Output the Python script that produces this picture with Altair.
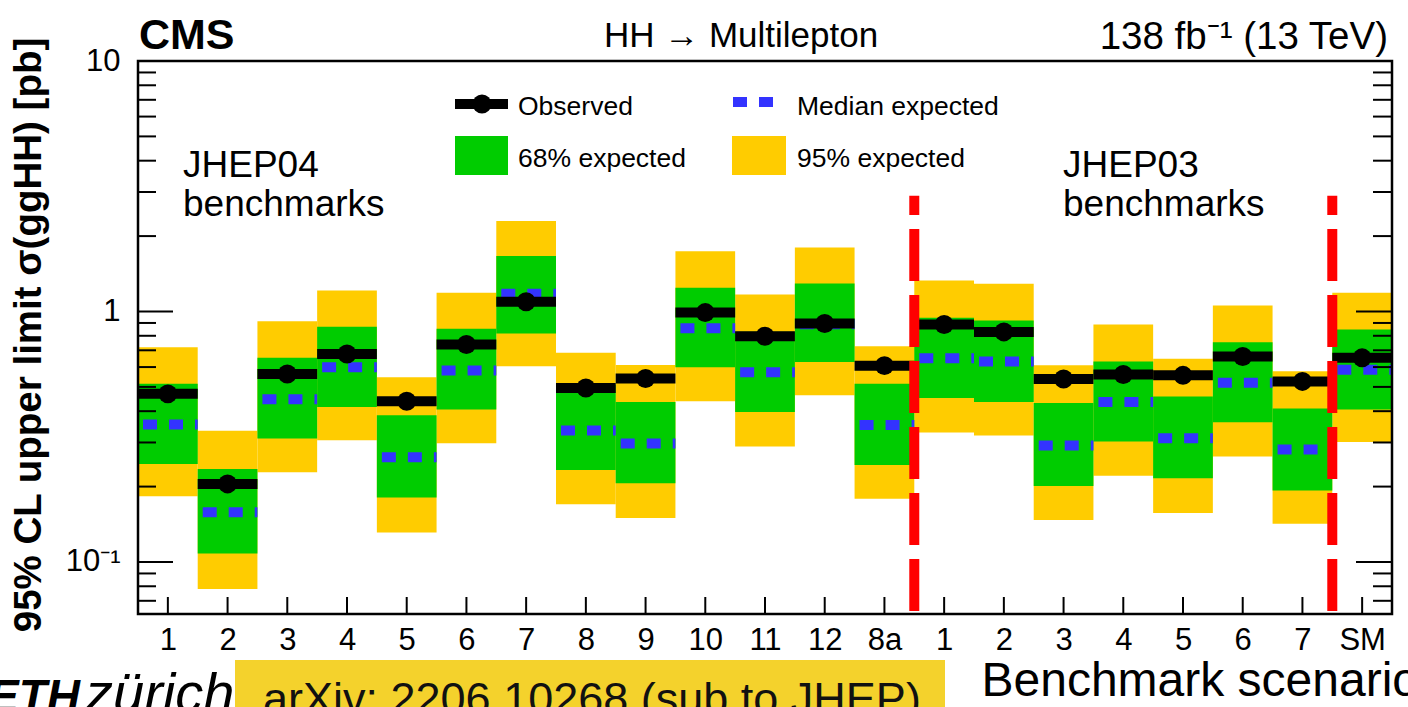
import json

import altair as alt
import pandas as pd

# Benchmark scenarios: JHEP04 set, JHEP03 set, then the Standard Model point
names = ["1", "2", "3", "4", "5", "6", "7", "8", "9", "10", "11", "12", "8a",
         "1", "2", "3", "4", "5", "6", "7", "SM"]

# 95% CL upper limits on sigma(ggHH) [pb]
observed = [0.469, 0.205, 0.563, 0.677, 0.438, 0.738, 1.094, 0.495, 0.540, 0.990,
            0.797, 0.895, 0.608, 0.887, 0.829, 0.538, 0.560, 0.556, 0.661, 0.526, 0.653]
expected = [0.354, 0.158, 0.446, 0.599, 0.262, 0.582, 1.177, 0.335, 0.297, 0.858,
            0.572, 0.890, 0.352, 0.650, 0.631, 0.292, 0.435, 0.312, 0.519, 0.281, 0.586]
lo68 = [0.246, 0.108, 0.311, 0.416, 0.181, 0.406, 0.817, 0.233, 0.206, 0.599,
        0.397, 0.629, 0.244, 0.452, 0.435, 0.201, 0.303, 0.216, 0.361, 0.193, 0.406]
hi68 = [0.515, 0.235, 0.653, 0.869, 0.385, 0.853, 1.664, 0.510, 0.435, 1.244,
        0.830, 1.294, 0.515, 0.944, 0.920, 0.431, 0.631, 0.458, 0.754, 0.410, 0.847]
lo95 = [0.183, 0.078, 0.228, 0.306, 0.131, 0.298, 0.604, 0.170, 0.150, 0.438,
        0.289, 0.463, 0.179, 0.329, 0.320, 0.147, 0.221, 0.157, 0.264, 0.142, 0.301]
hi95 = [0.720, 0.334, 0.915, 1.213, 0.546, 1.188, 2.300, 0.684, 0.612, 1.738,
        1.170, 1.800, 0.726, 1.330, 1.290, 0.610, 0.887, 0.647, 1.057, 0.577, 1.188]

# Group separators (bin edges) and the height they reach
separators = [13.5, 20.5]
separator_top = 2.9

# Axis ranges and tick positions
y_lo, y_hi = 0.062, 10
y_major = [0.1, 1, 10]
y_minor = [m * 10.0 ** e for e in (-2, -1, 0) for m in range(2, 10)]
y_minor = [v for v in y_minor if y_lo < v < y_hi]
positions = list(range(1, len(names) + 1))

W, H = 1254, 553
FONT = "Liberation Sans"
YELLOW, GREEN, BLUE, RED = "#FFCC00", "#00CC00", "#3333FF", "#FF0000"
DOT = 360

df = pd.DataFrame({
    "pos": positions, "name": names, "observed": observed, "expected": expected,
    "lo68": lo68, "hi68": hi68, "lo95": lo95, "hi95": hi95,
})
df["left"] = df["pos"] - 0.5
df["right"] = df["pos"] + 0.5

sep_df = pd.DataFrame({"x": separators, "lo": [y_lo] * len(separators),
                       "hi": [separator_top] * len(separators)})
major_df = pd.DataFrame({"v": y_major})
minor_df = pd.DataFrame({"v": y_minor})
xtick_df = pd.DataFrame({"pos": positions})
one = pd.DataFrame({"k": [0]})

xs = alt.Scale(domain=[0.5, 21.5], nice=False, zero=False)
ys = alt.Scale(type="log", domain=[y_lo, y_hi], nice=False)

x_axis = alt.Axis(
    values=positions,
    labelExpr=f"{json.dumps(names)}[datum.value - 1]",
    labelFontSize=31, labelPadding=11, labelAngle=0, labelOverlap=False,
    labelFlush=False, tickSize=0, ticks=False, domain=False, grid=False,
    title="Benchmark scenario", titleFontSize=48, titleFontWeight="normal",
    titleAlign="left", titleBaseline="alphabetic", titleX=843, titleY=81,
    titleColor="black", labelColor="black",
)
y_axis = alt.Axis(
    values=y_major,
    labelExpr="datum.value >= 1 ? format(datum.value, 'd') : '10\u207b\u00b9'",
    labelFontSize=31, labelPadding=18, labelOverlap=False, labelFlush=False,
    labelBaseline="middle", tickSize=0, ticks=False, domain=False, grid=False,
    title="95% CL upper limit  \u03c3(ggHH) [pb]", titleFontSize=38.5,
    titleFontWeight="bold", titleAngle=270, titleAlign="center",
    titleBaseline="alphabetic", titleX=-98, titleY=H / 2 - 3,
    titleColor="black", labelColor="black",
)

base = alt.Chart(df)

band95 = base.mark_rect(color=YELLOW).encode(
    x=alt.X("left:Q", scale=xs, axis=x_axis), x2="right:Q",
    y=alt.Y("lo95:Q", scale=ys, axis=y_axis), y2="hi95:Q",
)
band68 = base.mark_rect(color=GREEN).encode(
    x=alt.X("left:Q", scale=xs), x2="right:Q",
    y=alt.Y("lo68:Q", scale=ys), y2="hi68:Q",
)
median = base.mark_rule(color=BLUE, strokeWidth=10, strokeDash=[14, 12],
                        strokeDashOffset=21).encode(
    x=alt.X("left:Q", scale=xs), x2="right:Q", y=alt.Y("expected:Q", scale=ys),
)
obs_line = base.mark_rule(color="black", strokeWidth=10).encode(
    x=alt.X("left:Q", scale=xs), x2="right:Q", y=alt.Y("observed:Q", scale=ys),
)
obs_dot = base.mark_circle(color="black", size=DOT, opacity=1).encode(
    x=alt.X("pos:Q", scale=xs), y=alt.Y("observed:Q", scale=ys),
)
seps = alt.Chart(sep_df).mark_rule(color=RED, strokeWidth=10, strokeDash=[52, 14],
                                   strokeDashOffset=63).encode(
    x=alt.X("x:Q", scale=xs), y=alt.Y("lo:Q", scale=ys), y2="hi:Q",
)


# Inward-pointing ticks on left, right and bottom edges
def yticks(data, x0, x1):
    return alt.Chart(data).mark_rule(color="black", strokeWidth=2).encode(
        y=alt.Y("v:Q", scale=ys), x=alt.value(x0), x2=alt.value(x1),
    )


ticks = [
    yticks(major_df, 0, 35), yticks(minor_df, 0, 18),
    yticks(major_df, W - 36, W), yticks(minor_df, W - 19, W),
    alt.Chart(xtick_df).mark_rule(color="black", strokeWidth=2).encode(
        x=alt.X("pos:Q", scale=xs), y=alt.value(H), y2=alt.value(H - 17),
    ),
]

frame = alt.Chart(one).mark_rect(filled=False, stroke="black", strokeWidth=2.5).encode(
    x=alt.value(0), x2=alt.value(W), y=alt.value(0), y2=alt.value(H),
)


def label(text, x, y, size, align="left", weight="normal", style="normal",
          font=FONT, color="black", line_height=None):
    kw = dict(text=text, align=align, baseline="alphabetic", fontSize=size,
              fontWeight=weight, fontStyle=style, font=font, color=color)
    if line_height:
        kw["lineHeight"] = line_height
    return alt.Chart(one).mark_text(**kw).encode(x=alt.value(x), y=alt.value(y))


# Legend
legend = [
    alt.Chart(one).mark_rule(color="black", strokeWidth=10).encode(
        x=alt.value(317), x2=alt.value(370), y=alt.value(43)),
    alt.Chart(one).mark_circle(color="black", size=DOT, opacity=1).encode(
        x=alt.value(344), y=alt.value(43)),
    alt.Chart(one).mark_rule(color=BLUE, strokeWidth=10, strokeDash=[14, 12]).encode(
        x=alt.value(595), x2=alt.value(635), y=alt.value(41)),
    alt.Chart(one).mark_rect(color=GREEN).encode(
        x=alt.value(317), x2=alt.value(370), y=alt.value(75), y2=alt.value(114)),
    alt.Chart(one).mark_rect(color=YELLOW).encode(
        x=alt.value(594), x2=alt.value(648), y=alt.value(75), y2=alt.value(114)),
    label("Observed", 380, 54, 26.5),
    label("Median expected", 659, 54, 26.5),
    label("68% expected", 380, 106, 26.5),
    label("95% expected", 659, 106, 26.5),
]

texts = [
    label("CMS", 1, -12, 43, weight="bold"),
    label("HH \u2192 Multilepton", 603, -14, 35, align="center"),
    label("138 fb\u207b\u00b9 (13 TeV)", 1250, -12, 38.5, align="right"),
    label(["JHEP04", "benchmarks"], 45, 116, 37, line_height=39),
    label(["JHEP03", "benchmarks"], 925, 116, 37, line_height=39),
]

footer = [
    alt.Chart(one).mark_rect(color="#F4D22C").encode(
        x=alt.value(97), x2=alt.value(807), y=alt.value(599), y2=alt.value(680)),
    label("arXiv: 2206.10268 (sub to JHEP)", 125, 653, 45, color="#111111"),
    label("ETH", -150, 651, 46, weight="bold", style="italic"),
    label("z\u00fcrich", -53, 651, 56, style="italic"),
]

chart = alt.layer(
    band95, band68, median, obs_line, obs_dot, seps, *ticks, frame,
    *legend, *texts, *footer,
).properties(
    width=W, height=H,
    autosize=alt.AutoSizeParams(type="none"),
    padding={"left": 138, "top": 61, "right": 16, "bottom": 93},
    background="white",
).configure_view(stroke=None).configure(font=FONT).configure_axis(
    labelFont=FONT, titleFont=FONT,
)

chart.save("out.html", embed_options={"renderer": "svg", "actions": False})
